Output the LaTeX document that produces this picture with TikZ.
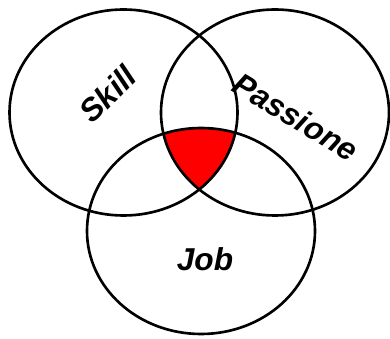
\documentclass[tikz,border=0pt]{standalone}
\usepackage{fontspec}
\setmainfont{Liberation Sans}
\begin{document}
\begin{tikzpicture}[
		setline/.style={line width=1.5pt},
		settext/.style={font=\fontsize{18}{21}\selectfont\bfseries\itshape}]
	\useasboundingbox (0,0) rectangle (7.8,6.76);
	% Centres
	\coordinate (skill) at (2.47,4.51);
	\coordinate (passione) at (5.50,4.51);
	\coordinate (job) at (4.02,2.14);
	% Common part
	\begin{scope}
		\clip (skill) ellipse (2.28 and 2.06);
		\clip (passione) ellipse (2.28 and 2.06);
		\fill [red] (job) ellipse (2.28 and 2.06);
	\end{scope}
	% Sets
	\foreach \c in {skill, passione, job}
		\draw [setline] (\c) ellipse (2.28 and 2.06);
	% Labels
	\node [settext, rotate=45] (skilllabel) at (2.16,4.88) {Skill};
	\node [settext, rotate=-31] (passionelabel) at (5.92,4.42) {Passione};
	\node [settext] (joblabel) at (4.10,1.58) {Job};
\end{tikzpicture}
\end{document}
